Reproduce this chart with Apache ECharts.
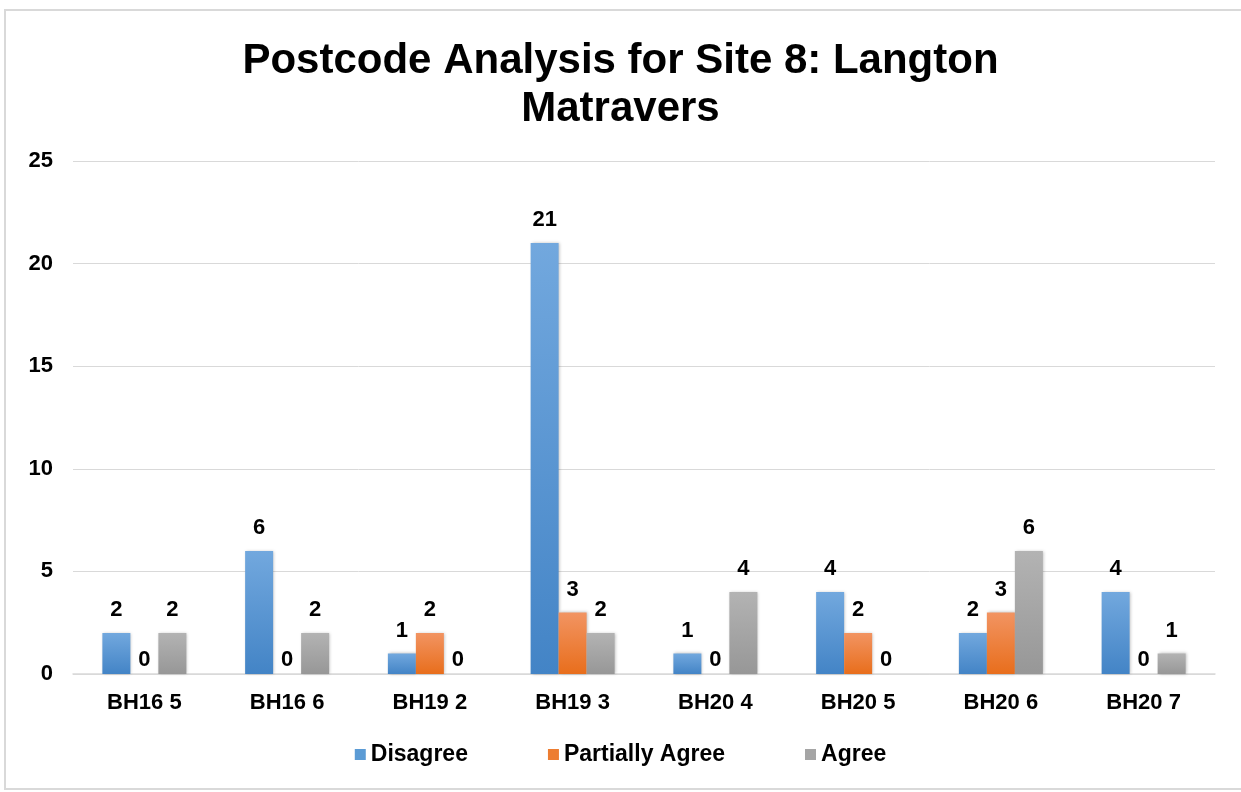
<!DOCTYPE html>
<html>
<head>
<meta charset="utf-8">
<script src="https://cdn.jsdelivr.net/npm/echarts@6/dist/echarts.min.js"></script>
<style>
  html, body { margin: 0; padding: 0; background: #fff; overflow: hidden; }
  #frame {
    position: absolute; left: 4px; top: 9px; width: 1250px; height: 781px;
    border: 2px solid #d9d9d9; box-sizing: border-box;
  }
  #chart { position: absolute; left: 0; top: 0; width: 1241px; height: 792px; }
</style>
</head>
<body>
<div id="frame"></div>
<div id="chart"></div>
<script>
var categories = ["BH16 5", "BH16 6", "BH19 2", "BH19 3", "BH20 4", "BH20 5", "BH20 6", "BH20 7"];
var disagree = [2, 6, 1, 21, 1, 4, 2, 4];
var partiallyAgree = [0, 0, 2, 3, 0, 2, 3, 0];
var agree = [2, 2, 0, 2, 4, 0, 6, 1];
var yTicks = [0, 5, 10, 15, 20, 25];

var fontFam = "'Liberation Sans', Arial, sans-serif";

function grad(top, bottom) {
  return new echarts.graphic.LinearGradient(0, 0, 0, 1, [
    { offset: 0, color: top },
    { offset: 1, color: bottom }
  ]);
}

function makeSeries(name, data, top, bottom) {
  return {
    name: name,
    type: "bar",
    // zero bars: label sits close to the axis like excel does
    data: data.map(function (v) {
      return v === 0 ? { value: v, label: { distance: 3 } } : v;
    }),
    barWidth: 28,
    barGap: "0%",
    itemStyle: {
      color: grad(top, bottom),
      shadowColor: "rgba(0,0,0,0.25)",
      shadowBlur: 3,
      shadowOffsetX: 1,
      shadowOffsetY: 0
    },
    label: {
      show: true,
      position: "top",
      distance: 12,
      color: "#000",
      fontFamily: fontFam,
      fontWeight: "bold",
      fontSize: 22
    }
  };
}

var chart = echarts.init(document.getElementById("chart"));
chart.setOption({
  animation: false,
  color: ["#5B9BD5", "#ED7D31", "#A5A5A5"],
  title: {
    text: "Postcode Analysis for Site 8: Langton\nMatravers",
    left: "center",
    top: 32,
    textStyle: {
      fontFamily: fontFam,
      fontWeight: "bold",
      fontSize: 42,
      lineHeight: 48,
      color: "#000"
    }
  },
  legend: {
    bottom: 21,
    left: "center",
    itemWidth: 11,
    itemHeight: 11,
    itemGap: 80,
    icon: "rect",
    textStyle: {
      fontFamily: fontFam,
      fontWeight: "bold",
      fontSize: 23,
      color: "#000"
    },
    data: [
      { name: "Disagree", itemStyle: { color: "#5B9BD5" } },
      { name: "Partially Agree", itemStyle: { color: "#ED7D31" } },
      { name: "Agree", itemStyle: { color: "#A5A5A5" } }
    ]
  },
  grid: {
    left: 73,
    right: 26,
    top: 161,
    bottom: 118,
    containLabel: false
  },
  xAxis: {
    type: "category",
    data: categories,
    axisTick: { show: false },
    axisLine: { lineStyle: { color: "#d9d9d9", width: 1.5 } },
    axisLabel: {
      margin: 18,
      color: "#000",
      fontFamily: fontFam,
      fontWeight: "bold",
      fontSize: 22
    }
  },
  yAxis: {
    type: "value",
    min: yTicks[0],
    max: yTicks[yTicks.length - 1],
    interval: 5,
    axisLine: { show: false },
    axisTick: { show: false },
    splitLine: { lineStyle: { color: "#d9d9d9" } },
    axisLabel: {
      margin: 20,
      color: "#000",
      fontFamily: fontFam,
      fontWeight: "bold",
      fontSize: 22
    }
  },
  series: [
    makeSeries("Disagree", disagree, "#72A8DE", "#4384C6"),
    makeSeries("Partially Agree", partiallyAgree, "#F29462", "#E86E1C"),
    makeSeries("Agree", agree, "#B3B3B3", "#979797")
  ]
});
</script>
</body>
</html>
